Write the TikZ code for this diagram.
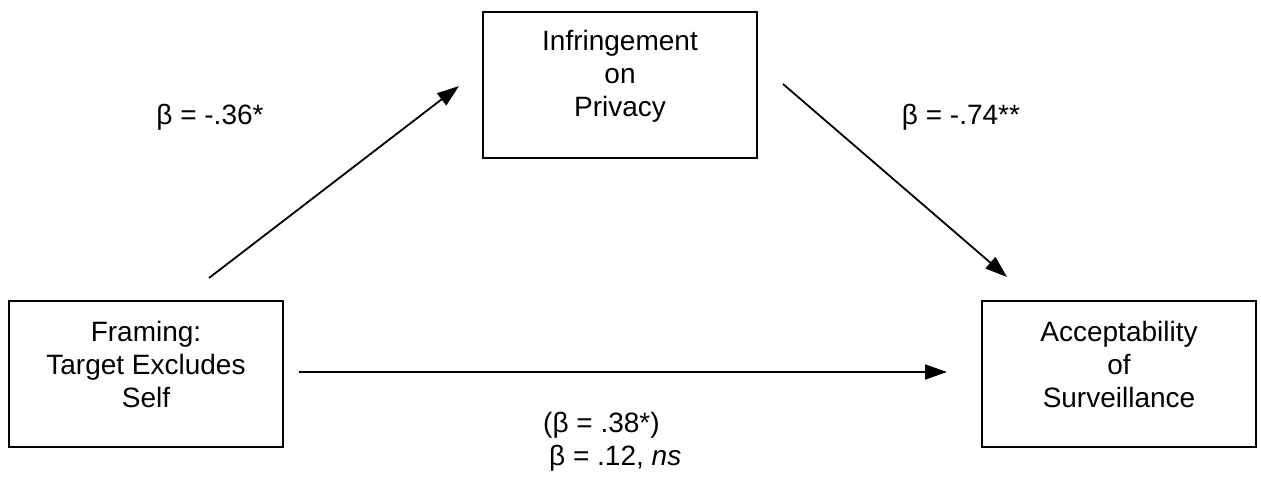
\documentclass[tikz,border=0pt]{standalone}
\usepackage{fontspec}
\setmainfont{Liberation Sans}
\usetikzlibrary{arrows.meta}
\begin{document}
\begin{tikzpicture}[x=1pt,y=-1pt,
  box/.style={draw,line width=2.2pt,minimum width=274pt,minimum height=146pt,inner sep=0pt},
  txt/.style={align=center,font=\fontsize{28}{33}\selectfont,inner sep=0pt},
  lbl/.style={font=\fontsize{28}{33}\selectfont,inner sep=0pt},
  conn/.style={line width=1.8pt,-{Triangle[length=22pt,width=15pt]}}]
\useasboundingbox (0,0) rectangle (1261,477);
% boxes
\node[box] (inf) at (620,85) {};
\node[txt] (inftxt) at (620,76) {Infringement\\on\\Privacy};
\node[box] (frm) at (146,374) {};
\node[txt] (frmtxt) at (146,364) {Framing:\\Target Excludes\\Self};
\node[box] (acc) at (1119,374) {};
\node[txt] (acctxt) at (1119,364) {Acceptability\\of\\Surveillance};
% connector ends
\coordinate (a1s) at (209,278);
\coordinate (a1e) at (459,86);
\coordinate (a2s) at (783,84);
\coordinate (a2e) at (1007,277);
\coordinate (a3s) at (299,372);
\coordinate (a3e) at (947,372);
\draw[conn] (a1s) -- (a1e);
\draw[conn] (a2s) -- (a2e);
\draw[conn] (a3s) -- (a3e);
% labels
\node[lbl] (l1) at (210,117) {β = -.36*};
\node[lbl] (l2) at (961,117) {β = -.74**};
\node[lbl,anchor=west] (l3) at (543,425) {(β = .38*)};
\node[lbl,anchor=west] (l4) at (549,458) {β = .12, \textit{ns}};
\end{tikzpicture}
\end{document}
